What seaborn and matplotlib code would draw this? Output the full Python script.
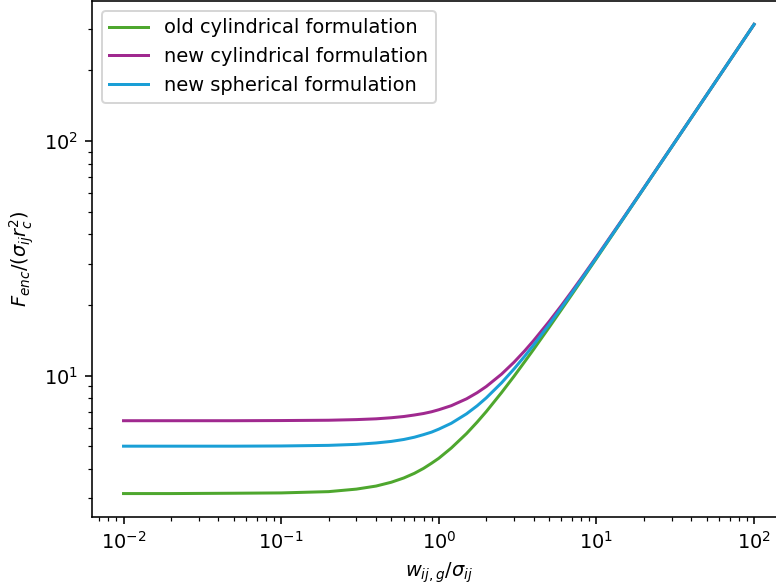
import matplotlib
matplotlib.use("Agg")
import matplotlib.pyplot as plt
import seaborn as sns
import pandas as pd

w = [0.01, 0.02, 0.05, 0.1, 0.2, 0.3, 0.4, 0.5, 0.6, 0.7, 0.8, 0.9, 1.0, 1.2, 1.5,
     1.75, 2.0, 2.5, 3.0, 3.5, 4.0, 5.0, 6.0, 7.0, 8.0, 10, 15, 20, 30, 50, 70, 100]
old_cyl = [3.14, 3.14, 3.15, 3.16, 3.20, 3.28, 3.38, 3.51, 3.66, 3.83, 4.02, 4.23,
           4.44, 4.91, 5.66, 6.33, 7.02, 8.46, 9.93, 11.44, 12.95, 16.02, 19.11,
           22.21, 25.33, 31.57, 47.23, 62.91, 94.30, 157.1, 219.9, 314.2]
new_cyl = [6.42, 6.42, 6.42, 6.43, 6.45, 6.49, 6.54, 6.61, 6.69, 6.79, 6.89, 7.01,
           7.15, 7.44, 7.96, 8.45, 8.98, 10.14, 11.40, 12.73, 14.11, 16.97, 19.91,
           22.91, 25.94, 32.07, 47.56, 63.16, 94.47, 157.2, 220.0, 314.2]
new_sph = [5.00, 5.00, 5.00, 5.01, 5.04, 5.09, 5.16, 5.24, 5.34, 5.46, 5.60, 5.74,
           5.91, 6.26, 6.87, 7.43, 8.03, 9.31, 10.67, 12.08, 13.52, 16.48, 19.50,
           22.55, 25.63, 31.81, 47.39, 63.03, 94.38, 157.16, 219.97, 314.2]
labels = ["old cylindrical formulation", "new cylindrical formulation",
          "new spherical formulation"]
colors = ["#4ea72e", "#a0298f", "#1a9fd6"]

df = pd.concat([
    pd.DataFrame({"w": w, "F": v, "formulation": lab})
    for v, lab in zip([old_cyl, new_cyl, new_sph], labels)
])

plt.rcParams["font.size"] = 9.7
dpi = 144
fig = plt.figure(figsize=(776 / dpi, 588 / dpi), dpi=dpi)
ax = fig.add_axes([92 / 776, 71 / 588, (785.6 - 92) / 776, 516 / 588])
sns.lineplot(data=df, x="w", y="F", hue="formulation", hue_order=labels,
             palette=dict(zip(labels, colors)), linewidth=1.5, ax=ax)
ax.set_xscale("log")
ax.set_yscale("log")
ax.set_xlim(10 ** -2.2, 10 ** 2.2)
ax.set_ylim(10 ** 0.397, 10 ** 2.597)
ax.set_xlabel(r"$w_{ij,g}/\sigma_{ij}$")
ax.set_ylabel(r"$F_{enc}/(\sigma_{ij} r_c^2)$")
handles, labs = ax.get_legend_handles_labels()
ax.legend(handles, labs, loc="upper left")
fig.savefig("out.png", dpi=dpi)
